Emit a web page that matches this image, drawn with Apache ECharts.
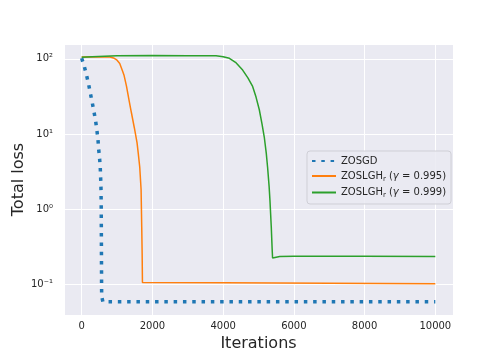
<!DOCTYPE html>
<html>
<head>
<meta charset="utf-8">
<script src="https://cdn.jsdelivr.net/npm/echarts@6/dist/echarts.min.js"></script>
<style>
  html, body { margin: 0; padding: 0; background: #ffffff; }
  #main { width: 504px; height: 360px; }
</style>
</head>
<body>
<div id="main"></div>
<script>
// 读图得到的曲线数据 [iteration, loss]
var zosgd = [
    [0, 102], [75, 79], [140, 60], [200, 45], [250, 34], [300, 26], [350, 19.5],
    [395, 14.8], [430, 11.2], [460, 8.5], [480, 6.3], [505, 4.8], [525, 3.6],
    [535, 2.7], [545, 2.0], [552, 1.15], [556, 0.5], [560, 0.2], [563, 0.09],
    [566, 0.068], [600, 0.058], [10000, 0.058]
];
var zoslgh995 = [
    [0, 106], [400, 107], [800, 106], [900, 103], [1000, 96], [1076, 87],
    [1150, 70], [1200, 60], [1268, 43], [1340, 28], [1408, 19], [1490, 12],
    [1566, 7.6], [1600, 5.5], [1642, 3.6], [1680, 1.8], [1698, 0.58],
    [1710, 0.25], [1718, 0.105], [4000, 0.104], [10000, 0.101]
];
var zoslgh999 = [
    [0, 105], [300, 107], [1000, 110], [2000, 111], [3000, 110], [3500, 110],
    [3800, 110], [4000, 107], [4177, 102], [4350, 90], [4552, 71], [4700, 56],
    [4834, 43], [4930, 31], [5023, 21], [5100, 13.5], [5163, 9.1], [5220, 5.5],
    [5257, 3.6], [5300, 2.0], [5324, 1.3], [5361, 0.58], [5385, 0.3],
    [5398, 0.222], [5600, 0.232], [6000, 0.235], [8000, 0.234], [10000, 0.232]
];
var seriesNames = ['ZOSGD', 'ZOSLGH995', 'ZOSLGH999'];
var yTickLabels = {'-1': '10⁻¹', '0': '10⁰', '1': '10¹', '2': '10²'};

var myChart = echarts.init(document.getElementById('main'));
var textColor = '#262626';

function legendText(name) {
    if (name === 'ZOSGD') return '{n|ZOSGD}';
    var g = name === 'ZOSLGH995' ? '0.995' : '0.999';
    return '{n|ZOSLGH}{s|r}{n| (}{g|γ}{n| = ' + g + ')}';
}

var option = {
    animation: false,
    backgroundColor: '#ffffff',
    grid: {
        left: 64, right: 51, top: 44, bottom: 45,
        outerBoundsMode: 'none',
        show: true, backgroundColor: '#eaeaf2', borderWidth: 0
    },
    legend: {
        orient: 'vertical',
        left: 307, top: 151,
        padding: [5, 5, 5, 4],
        itemGap: 5,
        itemWidth: 24, itemHeight: 12,
        backgroundColor: 'rgba(234,234,242,0.85)',
        borderColor: '#cfcfd6', borderWidth: 1, borderRadius: 3,
        data: seriesNames,
        formatter: legendText,
        itemStyle: { opacity: 0 },
        textStyle: {
            color: textColor,
            rich: {
                n: { fontSize: 10, color: textColor, fontFamily: 'DejaVu Sans' },
                s: { fontSize: 7, color: textColor, fontFamily: 'DejaVu Sans', verticalAlign: 'bottom', padding: [6, 0, 0, 0] },
                g: { fontSize: 10, color: textColor, fontFamily: 'DejaVu Sans', fontStyle: 'italic' }
            }
        }
    },
    xAxis: {
        type: 'value',
        min: -500, max: 10500,
        splitNumber: 5,
        name: 'Iterations',
        nameLocation: 'middle',
        nameGap: 21,
        nameMoveOverlap: false,
        nameTextStyle: { fontSize: 16, color: textColor, fontFamily: 'DejaVu Sans' },
        axisLine: { show: false },
        axisTick: { show: false },
        axisLabel: {
            color: textColor, fontSize: 10, fontFamily: 'DejaVu Sans', margin: 6,
            showMinLabel: false, showMaxLabel: false,
            formatter: function (v) { return String(v); }
        },
        splitLine: { show: true, lineStyle: { color: '#ffffff', width: 1 } }
    },
    yAxis: {
        type: 'log',
        min: 0.0386, max: 158,
        name: 'Total loss',
        nameLocation: 'middle',
        nameGap: 37,
        nameMoveOverlap: false,
        nameTextStyle: { fontSize: 16, color: textColor, fontFamily: 'DejaVu Sans' },
        axisLine: { show: false },
        axisTick: { show: false },
        axisLabel: {
            color: textColor, fontSize: 10, fontFamily: 'DejaVu Sans', margin: 11,
            showMinLabel: false, showMaxLabel: false,
            formatter: function (v) {
                var e = Math.log10(v);
                var r = Math.round(e);
                if (Math.abs(e - r) > 0.01) return '';
                return yTickLabels[String(r)] || '';
            }
        },
        splitLine: { show: true, lineStyle: { color: '#ffffff', width: 1 } }
    },
    series: [
        {
            name: 'ZOSGD', type: 'line', data: zosgd,
            showSymbol: false, symbol: 'none',
            color: '#1f77b4',
            lineStyle: { width: 3.5, type: [3.5, 5.8], cap: 'butt', color: '#1f77b4' },
            z: 3
        },
        {
            name: 'ZOSLGH995', type: 'line', data: zoslgh995,
            showSymbol: false, symbol: 'none',
            color: '#ff7f0e',
            lineStyle: { width: 1.5, color: '#ff7f0e' }
        },
        {
            name: 'ZOSLGH999', type: 'line', data: zoslgh999,
            showSymbol: false, symbol: 'none',
            color: '#2ca02c',
            lineStyle: { width: 1.5, color: '#2ca02c' }
        }
    ]
};
myChart.setOption(option);
window.onresize = function () { myChart.resize(); };
</script>
</body>
</html>
